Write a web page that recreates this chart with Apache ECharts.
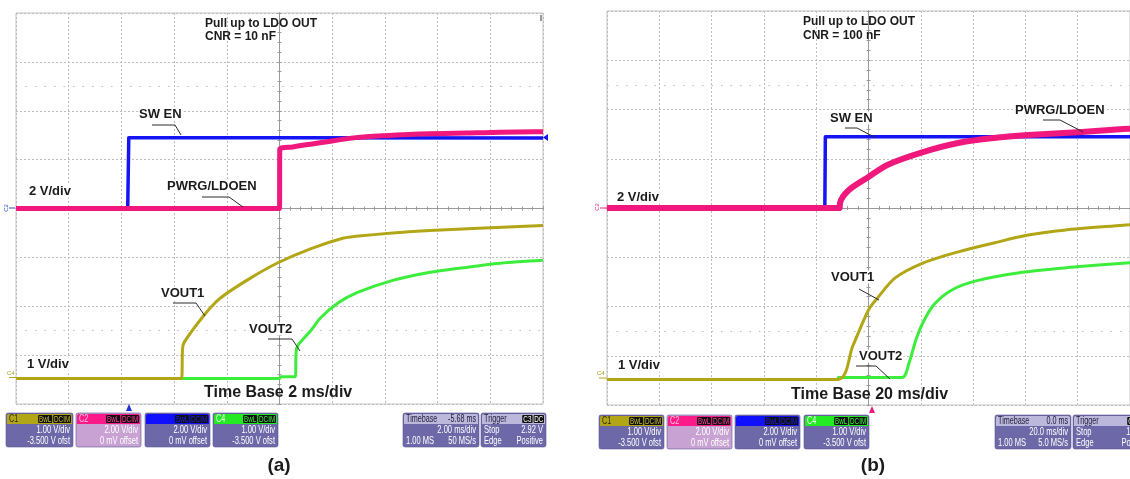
<!DOCTYPE html>
<html><head><meta charset="utf-8">
<script src="https://cdn.jsdelivr.net/npm/echarts@6/dist/echarts.min.js"></script>
<style>html,body{margin:0;padding:0;background:#fff}#c{width:1130px;height:479px}</style>
</head><body><div id="c"></div>
<script>
// ---------- DATA (time in ms relative to screen centre, value in volts) ----------
// Panel (a): 2 ms/div
const aSwEn   = [[-10,0],[-5.76,0],[-5.72,2.9],[0,2.9],[10,2.88]];
const aPwrg   = [[-10,0],[0,0],[0.01,2.42],[0.5,2.52],[1.6,2.70],[2.9,2.90],[4.0,2.98],[5.7,3.06],[7.5,3.10],[9.7,3.14],[10,3.14]];
const aVout1  = [[-10,0.02],[-3.72,0.02],[-3.68,0.62],[-3.62,0.76],[-2.87,1.31],[-2.26,1.66],[-1.12,2.07],[-0.02,2.40],[1.2,2.68],[2.4,2.89],[2.9,2.93],[4.3,3.0],[5.7,3.05],[10,3.15]];
const aVout2  = [[-10,0.02],[0,0.02],[0.05,0.06],[0.6,0.06],[0.63,0.56],[0.7,0.7],[1.2,1.01],[1.57,1.27],[2.26,1.58],[2.94,1.78],[4.3,2.03],[5.67,2.19],[7.0,2.29],[8.37,2.38],[10,2.44]];
// Panel (b): 20 ms/div
const bSwEn   = [[-100,0],[-16.7,0],[-16.5,2.89],[100,2.89]];
const bPwrg   = [[-100,0],[-11,0],[-10.9,0.2],[-7.5,0.73],[0,1.26],[7.2,1.75],[20.8,2.27],[34.3,2.64],[47.9,2.84],[61.1,2.96],[81.5,3.09],[97.4,3.21],[100,3.22]];
const bVout1  = [[-100,0.02],[-11.7,0.02],[-6,0.70],[0,1.43],[3.4,1.67],[10.2,2.08],[20.8,2.38],[34.3,2.61],[47.9,2.79],[61.1,2.95],[74.7,3.05],[97.4,3.15],[100,3.16]];
const bVout2  = [[-100,0.02],[-11.7,0.02],[-11.5,0.06],[12.8,0.06],[15.5,0.35],[18.1,0.82],[20.8,1.17],[24.9,1.53],[31.7,1.83],[41.1,2.02],[59.6,2.20],[78.5,2.30],[97.4,2.38],[100,2.39]];
// dotted reference levels (divisions)
const refLevels = [2.5, -2.5];
// Channel settings: [V/div, offset V]
const ch1V = [1, -3.5], ch2V = [2, 0];
// Info box texts
const aBoxes = [
  {t:'C1', tags:['BwL','DCIM'], l:[['','1.00 V/div'],['','-3.500 V ofst']]},
  {t:'C2', tags:['BwL','DCIM'], l:[['','2.00 V/div'],['','0 mV offset']]},
  {t:'C3', tags:['BwL','DCIM'], l:[['','2.00 V/div'],['','0 mV offset']]},
  {t:'C4', tags:['BwL','DCIM'], l:[['','1.00 V/div'],['','-3.500 V ofst']]},
  {t:'Timebase', r:'-5.68 ms', l:[['','2.00 ms/div'],['1.00 MS','50 MS/s']]},
  {t:'Trigger', tags:['C3','DC'], l:[['Stop','2.92 V'],['Edge','Positive']]}
];
const bBoxes = [
  {t:'C1', tags:['BwL','DCIM'], l:[['','1.00 V/div'],['','-3.500 V ofst']]},
  {t:'C2', tags:['BwL','DCIM'], l:[['','2.00 V/div'],['','0 mV offset']]},
  {t:'C3', tags:['BwL','DCIM'], l:[['','2.00 V/div'],['','0 mV offset']]},
  {t:'C4', tags:['BwL','DCIM'], l:[['','1.00 V/div'],['','-3.500 V ofst']]},
  {t:'Timebase', r:'0.0 ms', l:[['','20.0 ms/div'],['1.00 MS','5.0 MS/s']]},
  {t:'Trigger', tags:['C2','DC'], l:[['Stop','1.50 V'],['Edge','Positive']]}
];

// ---------- STYLE ----------
const FONT = '"Liberation Sans", Arial, sans-serif';
const GRIDC = '#bdbdbd', AXC = '#999';
const COL = {c1:'#b2a617', c2:'#f0187c', c3:'#1414f5', c4:'#3ced3c'};

const chart = echarts.init(document.getElementById('c'), null, {renderer:'canvas'});

function xAx(gi, span, step, inside, yIdx){
  return {type:'value', gridIndex:gi, min:-span, max:span, interval:step, position:'bottom',
    axisLine:{show:true, onZero:true, onZeroAxisIndex:yIdx, lineStyle:{color:AXC, width:1}},
    axisTick:{show:true, inside:inside, length:2, lineStyle:{color:AXC}},
    minorTick:{show:true, splitNumber:5, length:2, lineStyle:{color:AXC}},
    axisLabel:{show:false},
    splitLine:{show:!inside, lineStyle:{color:GRIDC, type:[2,2], width:1}}};
}
function yDiv(gi, inside, xIdx){
  return {type:'value', gridIndex:gi, min:-4, max:4, interval:1, position:'left',
    axisLine:{show:true, onZero:true, onZeroAxisIndex:xIdx, lineStyle:{color:AXC, width:1}},
    axisTick:{show:true, inside:inside, length:2, lineStyle:{color:AXC}},
    minorTick:{show:true, splitNumber:5, length:2, lineStyle:{color:AXC}},
    axisLabel:{show:false},
    splitLine:{show:!inside, lineStyle:{color:GRIDC, type:[2,2], width:1}}};
}
function yVolt(gi, ch){
  const c = -ch[1];
  return {type:'value', gridIndex:gi, min:c-4*ch[0], max:c+4*ch[0], show:false, splitLine:{show:false}};
}
function ser(data, xi, yi, color, width, z, smooth){
  return {type:'line', xAxisIndex:xi, yAxisIndex:yi, data:data, symbol:'none', showSymbol:false,
    smooth: smooth ? 0.3 : false,
    lineStyle:{color:color, width:width, join:'round', cap:'butt'}, z:z, silent:true, animation:false, clip:true};
}
function refSer(xi, yi){
  return {type:'line', xAxisIndex:xi, yAxisIndex:yi, data:[], silent:true, z:1,
    markLine:{symbol:'none', silent:true, animation:false, label:{show:false},
      lineStyle:{type:[1.5,8], color:'#bdbdbd', width:1},
      data: refLevels.map(v=>({yAxis:v}))}};
}

// ---------- graphics helpers ----------
const G = [];
function txt(s, x, y, size, opts){
  opts = opts || {};
  G.push({type:'text', z:100, silent:true, style:{text:s, x:x, y:y, font:'bold '+size+'px '+FONT, fill:'#1b1b1b',
    align:opts.align||'left', textAlign:opts.align||'left', verticalAlign:'middle', textVerticalAlign:'middle',
    backgroundColor:opts.bg===false?null:'#fff', padding:[0,1]}});
}
function ptr(pts){
  G.push({type:'polyline', z:101, silent:true, shape:{points:pts}, style:{stroke:'#2a2a2a', lineWidth:1, fill:null}});
}
function tri(pts, color){
  G.push({type:'polygon', z:101, silent:true, shape:{points:pts}, style:{fill:color}});
}
function stxt(s, x, y, size, fill, align, sx){
  G.push({type:'text', z:53, silent:true, x:x, y:y, scaleX:sx||0.72,
    style:{text:s, x:0, y:0, font:size+'px '+FONT, fill:fill, align:align||'left', textAlign:align||'left', verticalAlign:'middle', textVerticalAlign:'middle'}});
}
const HDR = [
  {bg:COL.c1, fg:'#2c2a00', tag:'#c8bc30', body:'#6d69a9', bt:'#fff'},
  {bg:'#ff1a8a', fg:'#ffc6df', tag:'#ff3a98', body:'#c7a2d2', bt:'#fff'},
  {bg:'#1010ff', fg:'#1010ff', tag:'#1a1aff', body:'#6d69a9', bt:'#fff'},
  {bg:'#24ea24', fg:'#f4fff4', tag:'#3af03a', body:'#6d69a9', bt:'#fff'},
  {bg:'#bcb8dc', fg:'#20203a', tag:'#fff', body:'#6d69a9', bt:'#fff'},
  {bg:'#bcb8dc', fg:'#20203a', tag:'#fff', body:'#6d69a9', bt:'#fff'}
];
function box(x, y, w, info, h){
  G.push({type:'rect', z:50, silent:true, shape:{x:x, y:y, width:w, height:34, r:2}, style:{fill:h.body, stroke:'#5a5690', lineWidth:0.6}});
  G.push({type:'rect', z:51, silent:true, shape:{x:x+1, y:y+1, width:w-2, height:10, r:[2,2,0,0]}, style:{fill:h.bg}});
  stxt(info.t, x+3, y+6.5, 10, h.fg, 'left', 0.72);
  if (info.r) stxt(info.r, x+w-3, y+6.5, 10, h.fg, 'right', 0.72);
  if (info.tags){
    let tx = x + w - 2;
    for (let i=info.tags.length-1;i>=0;i--){
      const s = info.tags[i]; const tw = s.length*3.7+3;
      tx -= tw;
      G.push({type:'rect', z:52, silent:true, shape:{x:tx, y:y+2, width:tw, height:8, r:1}, style:{fill:'#111'}});
      stxt(s, tx+tw/2, y+6.5, 9, h.tag, 'center', 0.7);
      tx -= 1;
    }
  }
  info.l.forEach((ln, k)=>{
    const yy = y + 17 + k*11;
    if (ln[0]) stxt(ln[0], x+3, yy, 10.5, h.bt, 'left', 0.72);
    stxt(ln[1], x+w-3, yy, 10.5, h.bt, 'right', 0.72);
  });
}

// ---------- annotations (a) ----------
txt('Pull up to LDO OUT', 204, 24, 12, {bg:false});
txt('CNR = 10 nF', 204, 37, 12, {bg:false});
txt('SW EN', 138, 114, 13); ptr([[152,125],[175,125],[181,135]]);
txt('PWRG/LDOEN', 166, 186, 13); ptr([[202,197],[229,197],[243,207]]);
txt('2 V/div', 28, 191, 13);
txt('1 V/div', 26, 364, 13);
txt('VOUT1', 160, 293, 13); ptr([[173,303],[196,303],[205,316]]);
txt('VOUT2', 248, 329, 13); ptr([[268,339],[292,339],[300,351]]);
txt('Time Base 2 ms/div', 203, 393, 16, {bg:false});
txt('(a)', 279, 466, 19, {align:'center', bg:false});
tri([[126,411],[132,411],[129,404]], '#2030e0');
tri([[548,134],[548,141],[543,137.5]], '#1414f5');
G.push({type:'line', z:101, silent:true, shape:{x1:541, y1:15, x2:541, y2:21}, style:{stroke:'#333', lineWidth:1}});
G.push({type:'text', z:101, silent:true, rotation:Math.PI/2, x:6, y:208, style:{text:'C2', x:0, y:0, font:'6px '+FONT, fill:'#3050c0', align:'center', textAlign:'center', verticalAlign:'middle', textVerticalAlign:'middle'}});
G.push({type:'line', z:101, silent:true, shape:{x1:9, y1:208, x2:15, y2:208}, style:{stroke:'#3050c0', lineWidth:1}});
G.push({type:'text', z:101, silent:true, style:{text:'C4', x:7, y:373, font:'6px '+FONT, fill:'#a6a020', verticalAlign:'middle', textVerticalAlign:'middle'}});
G.push({type:'line', z:101, silent:true, shape:{x1:9, y1:377.5, x2:16, y2:377.5}, style:{stroke:'#b2a617', lineWidth:1}});
// ---------- annotations (b) ----------
txt('Pull up to LDO OUT', 802, 22, 12, {bg:false});
txt('CNR = 100 nF', 802, 36, 12, {bg:false});
txt('SW EN', 829, 118, 13); ptr([[845,128],[857,128],[874,137]]);
txt('PWRG/LDOEN', 1014, 110, 13); ptr([[1043,120],[1060,120],[1083,132]]);
txt('2 V/div', 616, 197, 13);
txt('1 V/div', 617, 365, 13);
txt('VOUT1', 830, 277, 13); ptr([[859,289],[879,300]]);
txt('VOUT2', 858, 356, 13); ptr([[856,366],[876,366],[890,379]]);
txt('Time Base 20 ms/div', 790, 395, 16, {bg:false});
txt('(b)', 873, 466, 19, {align:'center', bg:false});
tri([[869,413],[875,413],[872,406]], '#f0187c');
G.push({type:'text', z:101, silent:true, rotation:Math.PI/2, x:597, y:207, style:{text:'C2', x:0, y:0, font:'6px '+FONT, fill:'#e0287c', align:'center', textAlign:'center', verticalAlign:'middle', textVerticalAlign:'middle'}});
G.push({type:'line', z:101, silent:true, shape:{x1:600, y1:208, x2:607, y2:208}, style:{stroke:'#e0287c', lineWidth:1}});
G.push({type:'text', z:101, silent:true, style:{text:'C4', x:597, y:373, font:'6px '+FONT, fill:'#a6a020', verticalAlign:'middle', textVerticalAlign:'middle'}});
G.push({type:'line', z:101, silent:true, shape:{x1:599, y1:378, x2:607, y2:378}, style:{stroke:'#b2a617', lineWidth:1}});

// info boxes
const aBoxX = [[6,67],[76,65],[145,65],[213,65],[403,76],[481,65]];
const bBoxX = [[599,65],[667,65],[735,65],[804,65],[995,76],[1073,78]];
aBoxes.forEach((b,i)=>box(aBoxX[i][0], 413, aBoxX[i][1], b, HDR[i]));
bBoxes.forEach((b,i)=>box(bBoxX[i][0], 415, bBoxX[i][1], b, HDR[i]));

const option = {
  backgroundColor:'#fff', animation:false,
  grid:[
    {left:16, top:13, width:527, height:391, show:true, borderColor:'#c4c4c4', borderWidth:1, backgroundColor:'transparent'},
    {left:607, top:11, width:530, height:394, show:true, borderColor:'#c4c4c4', borderWidth:1, backgroundColor:'transparent'}
  ],
  xAxis:[ xAx(0,10,2,false,0), xAx(0,10,2,true,0), xAx(1,100,20,false,4), xAx(1,100,20,true,4) ],
  yAxis:[ yDiv(0,false,0), yDiv(0,true,0), yVolt(0,ch1V), yVolt(0,ch2V),
          yDiv(1,false,2), yDiv(1,true,2), yVolt(1,ch1V), yVolt(1,ch2V) ],
  series:[
    refSer(0,0), refSer(2,4),
    ser(aVout2, 0, 2, COL.c4, 3, 5, true),
    ser(aVout1, 0, 2, COL.c1, 3, 6, true),
    ser(aSwEn,  0, 3, COL.c3, 3.5, 7, false),
    ser(aPwrg,  0, 3, COL.c2, 5, 8, true),
    ser(bVout2, 2, 6, COL.c4, 3, 5, true),
    ser(bVout1, 2, 6, COL.c1, 3, 6, true),
    ser(bSwEn,  2, 7, COL.c3, 3.5, 7, false),
    ser(bPwrg,  2, 7, COL.c2, 6, 8, true)
  ],
  graphic: G
};
chart.setOption(option);
</script>
</body></html>
